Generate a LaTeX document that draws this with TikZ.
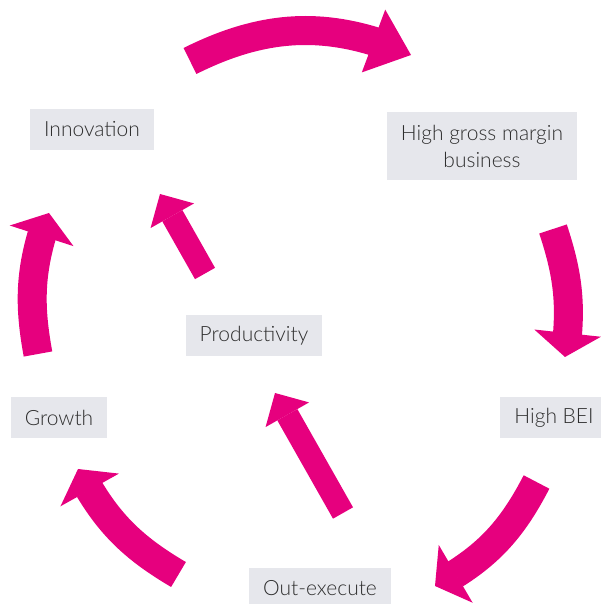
\documentclass[tikz,border=0pt]{standalone}
\usepackage{fontspec}
\setmainfont{Lato}[UprightFont=* Light]
\usetikzlibrary{arrows.meta,bending}

\definecolor{cyclepink}{HTML}{E6007E}
\definecolor{boxgrey}{HTML}{E6E7EC}
\definecolor{labelgrey}{HTML}{2E2E2E}

\begin{document}
\begin{tikzpicture}[x=1pt,y=1pt]
    % --- Style Definitions ---
    % 'stage' is a grey label box, 'ringarrow' a wide curved arrow of the
    % outer loop and 'innerarrow' a narrower straight one.
    \tikzstyle{stage} = [fill=boxgrey, text=labelgrey, align=center,
        font=\fontsize{21}{27}\selectfont, inner xsep=14pt, minimum height=41pt]
    \tikzstyle{ringarrow} = [color=cyclepink, line width=29pt,
        -{Triangle[width=67pt,length=24pt,line width=0pt,flex]}]
    \tikzstyle{innerarrow} = [color=cyclepink, line width=23pt,
        -{Triangle[width=50pt,length=25pt,line width=0pt]}]

    \useasboundingbox (0,0) rectangle (601,604);

    % --- Stage Boxes ---
    \node[stage] (innov) at (92,474.5) {Innovation};
    \node[stage, minimum height=68pt] (margin) at (482,458) {High gross margin\\business};
    \node[stage] (prod) at (254,268.5) {Productivity};
    \node[stage] (growth) at (59,186.5) {Growth};
    \node[stage] (bei) at (554,186.5) {High BEI};
    \node[stage] (outex) at (320,15.5) {Out-execute};

    % --- Arrow End Points ---
    % tails (T..) and tips (H..) of the arrows between the boxes
    \coordinate (Ttop) at (190,543);    \coordinate (Htop) at (411,549);
    \coordinate (Tright) at (553,375);  \coordinate (Hright) at (565,247);
    \coordinate (Tlowr) at (536.5,122); \coordinate (Hlowr) at (435,18);
    \coordinate (Tlowl) at (178.5,29.5);\coordinate (Hlowl) at (78,135);
    \coordinate (Tleft) at (38,250);    \coordinate (Hleft) at (49,391);
    \coordinate (Tprod) at (343,91);    \coordinate (Hprod) at (275,211);
    \coordinate (Tinn) at (205,330.5);  \coordinate (Hinn) at (160,410);

    % --- Outer Loop ---
    \draw[ringarrow, -{Triangle[width=67pt,length=40pt,line width=0pt,flex]}]
        (Ttop) to[bend left=25] (Htop);
    \draw[ringarrow] (Tright) to[bend left=13] (Hright);
    \draw[ringarrow] (Tlowr) to[bend left=17] (Hlowr);
    \draw[ringarrow] (Tlowl) to[bend left=16] (Hlowl);
    \draw[ringarrow] (Tleft) to[bend left=15] (Hleft);

    % --- Inner Shortcut ---
    \draw[innerarrow] (Tprod) -- (Hprod);
    \draw[innerarrow] (Tinn) -- (Hinn);
\end{tikzpicture}
\end{document}
